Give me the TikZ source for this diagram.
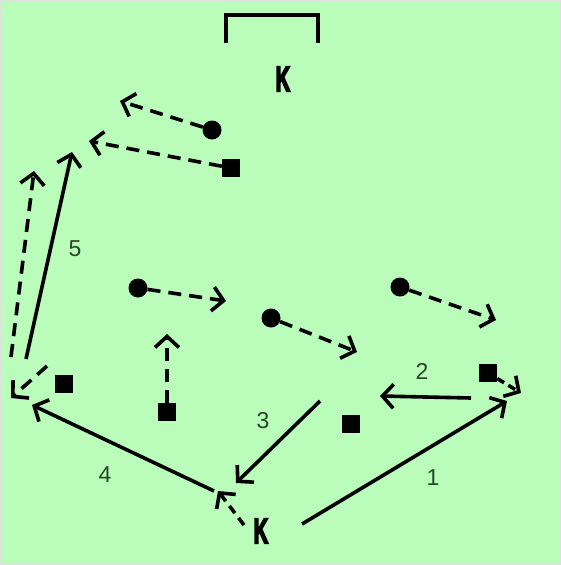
\documentclass[tikz,border=0pt]{standalone}
\usepackage{fontspec}
\newfontfamily\numfont{Liberation Sans}
\newfontfamily\kfont[FakeStretch=0.56,FakeBold=4]{Liberation Sans}
\usetikzlibrary{arrows.meta}
\definecolor{pitch}{RGB}{186,252,186}
\definecolor{numcol}{RGB}{40,70,40}
\tikzset{
  chev/.style={-{Straight Barb[length=11pt,width=24pt,line width=3.6pt]}},
  run/.style={chev, line width=3.6pt, black},
  pass/.style={chev, line width=3.6pt, black, dash pattern=on 13pt off 8pt},
  player/.style={circle, fill=black, inner sep=0pt, minimum size=19pt},
  opp/.style={rectangle, fill=black, inner sep=0pt, minimum size=18pt},
  keeper/.style={font=\kfont\bfseries\fontsize{36}{36}\selectfont, text=black, inner sep=0pt},
  num/.style={font=\numfont\fontsize{23}{23}\selectfont, text=numcol, inner sep=0pt},
}
\begin{document}
\begin{tikzpicture}[x=1pt,y=-1pt]
\useasboundingbox (0,0) rectangle (561,565);
\fill[pitch] (0,0) rectangle (561,565);
\draw[gray!25, line width=1pt] (0.5,0.5) rectangle (560.5,564.5);
% goal
\draw[line width=3.6pt, black, line cap=butt] (226,43) -- (226,15) -- (318,15) -- (318,43);
\node[keeper] (ktop) at (283,79) {K};
\node[keeper] (kbot) at (261,531) {K};
% upper group
\node[player] (c1) at (212,130) {};
\node[opp] (s1) at (231,168) {};
\coordinate (c1t) at (120,101);
\coordinate (s1t) at (89,141);
\draw[pass] (c1) -- (c1t);
\draw[pass] (s1) -- (s1t);
% left side
\node[opp] (s2) at (64,384) {};
\coordinate (s2a) at (47,366);
\coordinate (s2t) at (11,398);
\draw[pass] (s2a) -- (s2t);
\coordinate (l1a) at (11,357);
\coordinate (l1b) at (34,171);
\draw[pass] (l1a) -- (l1b);
\coordinate (p5a) at (26,359);
\coordinate (p5b) at (72,152);
\draw[run] (p5a) -- (p5b);
\node[num] (n5) at (75,249) {5};
% middle
\node[player] (c2) at (138,288) {};
\coordinate (c2t) at (226,301);
\draw[pass] (c2) -- (c2t);
\node[opp] (s3) at (167,412) {};
\coordinate (s3t) at (167,334);
\draw[pass] (s3) -- (s3t);
\node[player] (c3) at (271,318) {};
\coordinate (c3t) at (357,352);
\draw[pass] (c3) -- (c3t);
% right
\node[player] (c4) at (400,287) {};
\coordinate (c4t) at (496,320);
\draw[pass] (c4) -- (c4t);
\node[opp] (s4) at (488,373) {};
\coordinate (s4t) at (521,393);
\draw[pass, dash pattern=on 8pt off 5pt] (s4) -- (s4t);
\node[opp] (s5) at (351,424) {};
% passes
\coordinate (p2a) at (471,398);
\coordinate (p2b) at (380,396);
\draw[run] (p2a) -- (p2b);
\node[num] (n2) at (422,371) {2};
\coordinate (p3a) at (320,401);
\coordinate (p3b) at (236,483);
\draw[run] (p3a) -- (p3b);
\node[num] (n3) at (263,421) {3};
\coordinate (p1a) at (302,524);
\coordinate (p1b) at (507,401);
\draw[run] (p1a) -- (p1b);
\node[num] (n1) at (433,478) {1};
\coordinate (p4a) at (214,491);
\coordinate (p4b) at (32,405);
\draw[run] (p4a) -- (p4b);
\node[num] (n4) at (105,475) {4};
% keeper short dashed
\coordinate (ka) at (244,525);
\coordinate (kt) at (218,491);
\draw[pass, dash pattern=on 9pt off 6pt] (ka) -- (kt);
\end{tikzpicture}
\end{document}
